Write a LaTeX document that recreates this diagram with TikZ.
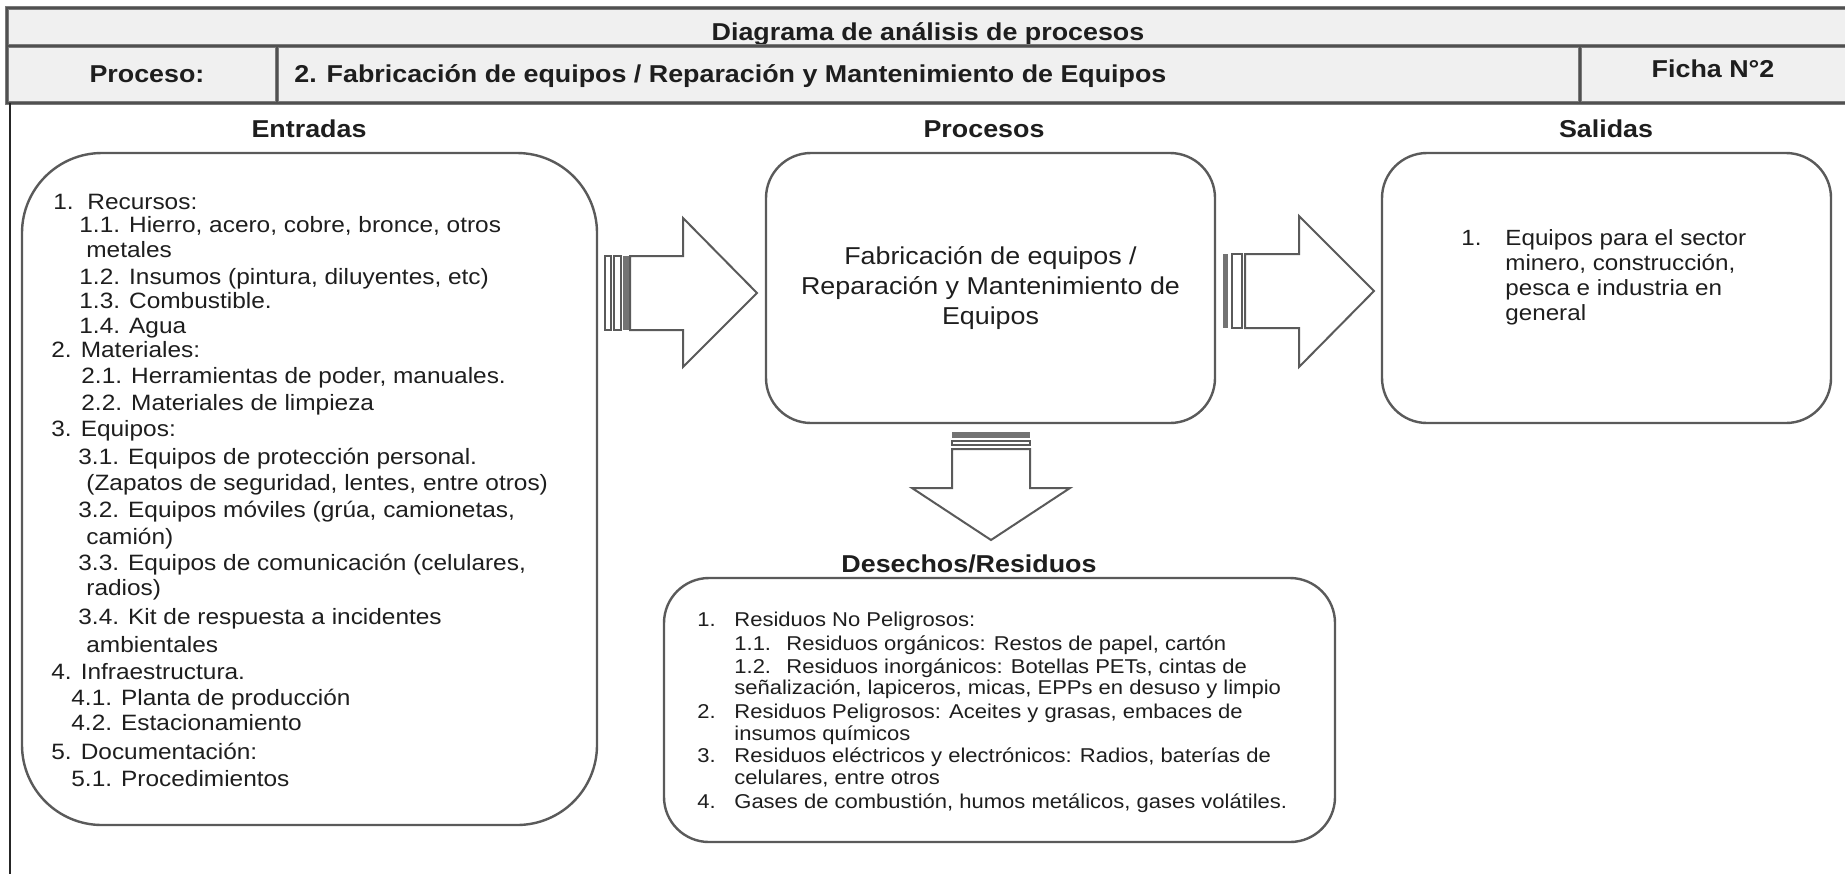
\documentclass[tikz,border=0pt]{standalone}
\usepackage{fontspec}
\setmainfont{Liberation Sans}[FakeStretch=1.1]
\definecolor{hdrfill}{HTML}{F0F0F0}
\definecolor{hdrline}{HTML}{7A7A7A}
\definecolor{hdrcore}{HTML}{505050}
\definecolor{boxline}{HTML}{5A5A5A}
\definecolor{txt}{HTML}{1E1E1E}
\begin{document}
\begin{tikzpicture}[x=0.5pt,y=-0.5pt,
  hdrtext/.style={font=\fontsize{12.2}{14}\selectfont\bfseries, text=txt, inner sep=0},
  coltitle/.style={font=\fontsize{12.2}{14}\selectfont\bfseries, text=txt, inner sep=0, anchor=base},
  hdrrule/.style={draw=hdrline, line width=2pt},
  hdrcorerule/.style={draw=hdrcore, line width=0.6pt},
  roundbox/.style={draw=boxline, line width=1.2pt, rectangle, inner sep=0},
  listtext/.style={font=\fontsize{11.1}{13.1}\selectfont, text=txt, inner sep=0, anchor=base west},
  saltext/.style={font=\fontsize{11}{12.5}\selectfont, text=txt, inner sep=0, anchor=base west},
  restext/.style={font=\fontsize{10}{11.4}\selectfont, text=txt, inner sep=0, anchor=base west},
  blockarrow/.style={draw=boxline, line width=1pt, fill=white, line join=miter},
  stripefill/.style={fill=boxline!85}
]
\useasboundingbox (0,0) rectangle (1845,874);
\fill[white] (0,0) rectangle (1845,874);

% ---------- header ----------
\fill[hdrfill] (7,8) rectangle (1850,103);
\node (title) [hdrtext, anchor=base] at (928,40) {Diagrama de análisis de procesos};
\node (proclabel) [hdrtext, anchor=base] at (147,82) {Proceso:};
\node (procname) [hdrtext, anchor=base west] at (294,82) {2. Fabricación de equipos / Reparación y Mantenimiento de Equipos};
\node (ficha) [hdrtext, anchor=base] at (1713,77) {Ficha N°2};
\foreach \r in {hdrrule, hdrcorerule} {
  \draw[\r] (1850,8) -- (7,8) -- (7,103) -- (1850,103);
  \draw[\r] (7,46) -- (1850,46);
  \draw[\r] (277,46) -- (277,103);
  \draw[\r] (1580,46) -- (1580,103);
}
\draw[line width=1.2pt, black!85] (10,103) -- (10,874);

% ---------- column titles ----------
\node (tent) [coltitle] at (309,137) {Entradas};
\node (tpro) [coltitle] at (984,137) {Procesos};
\node (tsal) [coltitle] at (1606,137) {Salidas};
\node (tres) [coltitle] at (969,572) {Desechos/Residuos};

% ---------- boxes ----------
\node (entbox) [roundbox, rounded corners=40pt, minimum width=287.5pt, minimum height=336pt] at (309.5,489) {};
\node (probox) [roundbox, rounded corners=22.5pt, minimum width=224.5pt, minimum height=135pt,
  align=center, font=\fontsize{12.2}{15}\selectfont, text=txt] at (990.5,288)
  {Fabricación de equipos /\\Reparación y Mantenimiento de\\Equipos};
\node (salbox) [roundbox, rounded corners=22.5pt, minimum width=224.5pt, minimum height=135pt] at (1606.5,288) {};
\node (resbox) [roundbox, rounded corners=22.5pt, minimum width=335.5pt, minimum height=132pt] at (999.5,710) {};

% ---------- Entradas list ----------
\foreach \lx/\ly/\lt [count=\i] in {
  53/209/{\makebox[17pt][l]{1.}Recursos:},
  79/232/{1.1. Hierro, acero, cobre, bronce, otros},
  86/257/{metales},
  79/284/{1.2. Insumos (pintura, diluyentes, etc)},
  79/308/{1.3. Combustible.},
  79/333/{1.4. Agua},
  51/357/{2. Materiales:},
  81/383/{2.1. Herramientas de poder, manuales.},
  81/410/{2.2. Materiales de limpieza},
  51/436/{3. Equipos:},
  78/464/{3.1. Equipos de protección personal.},
  86/490/{(Zapatos de seguridad, lentes, entre otros)},
  78/517/{3.2. Equipos móviles (grúa, camionetas,},
  86/544/{camión)},
  78/570/{3.3. Equipos de comunicación (celulares,},
  86/595/{radios)},
  78/624/{3.4. Kit de respuesta a incidentes},
  86/652/{ambientales},
  51/679/{4. Infraestructura.},
  71/705/{4.1. Planta de producción},
  71/730/{4.2. Estacionamiento},
  51/759/{5. Documentación:},
  71/786/{5.1. Procedimientos}}
  \node (ent\i) [listtext] at (\lx,\ly) {\lt};

% ---------- Salidas list ----------
\foreach \lx/\ly/\lt [count=\i] in {
  1461/245/{\makebox[22pt][l]{1.}Equipos para el sector},
  1505/270/{minero, construcción,},
  1505/295/{pesca e industria en},
  1505/320/{general}}
  \node (sal\i) [saltext] at (\lx,\ly) {\lt};

% ---------- Residuos list ----------
\foreach \lx/\ly/\lt [count=\i] in {
  697/626/{\makebox[18.5pt][l]{1.}Residuos No Peligrosos:},
  734/650/{\makebox[26pt][l]{1.1.}Residuos orgánicos: Restos de papel, cartón},
  734/673/{\makebox[26pt][l]{1.2.}Residuos inorgánicos: Botellas PETs, cintas de},
  734/694/{señalización, lapiceros, micas, EPPs en desuso y limpio},
  697/718/{\makebox[18.5pt][l]{2.}Residuos Peligrosos: Aceites y grasas, embaces de},
  734/740/{insumos químicos},
  697/762/{\makebox[18.5pt][l]{3.}Residuos eléctricos y electrónicos: Radios, baterías de},
  734/784/{celulares, entre otros},
  697/808/{\makebox[18.5pt][l]{4.}Gases de combustión, humos metálicos, gases volátiles.}}
  \node (res\i) [restext] at (\lx,\ly) {\lt};

% ---------- striped block arrows ----------
% Entradas -> Procesos
\draw[blockarrow] (605,256) rectangle (611,330);
\draw[blockarrow] (614,256) rectangle (621,330);
\fill[stripefill] (623,256) rectangle (630,330);
\draw[blockarrow] (630,256) -- (683,256) -- (683,218) -- (757,293) -- (683,367) -- (683,330) -- (630,330) -- cycle;
% Procesos -> Salidas
\fill[stripefill] (1223,254) rectangle (1228,328);
\draw[blockarrow] (1232,254) rectangle (1242,328);
\draw[blockarrow] (1245,254) -- (1299,254) -- (1299,216) -- (1374,291) -- (1299,367) -- (1299,328) -- (1245,328) -- cycle;
% Procesos -> Desechos
\fill[stripefill] (952,432) rectangle (1030,438);
\draw[blockarrow] (952,441) rectangle (1030,445);
\draw[blockarrow] (952,449) -- (952,488) -- (912,488) -- (991,540) -- (1070,488) -- (1030,488) -- (1030,449) -- cycle;
\end{tikzpicture}
\end{document}
